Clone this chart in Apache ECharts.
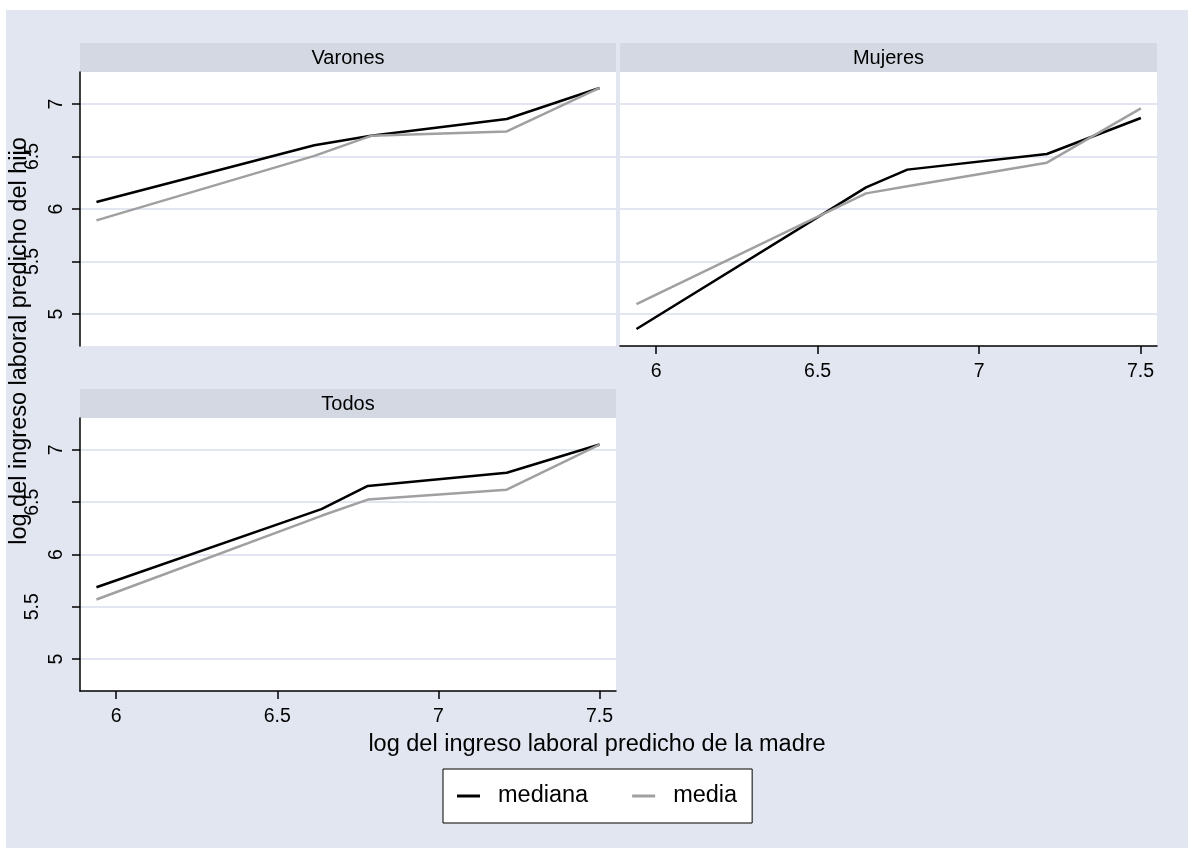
<!DOCTYPE html>
<html>
<head>
<meta charset="utf-8">
<script src="https://cdn.jsdelivr.net/npm/echarts@6/dist/echarts.min.js"></script>
<style>
  html, body { margin: 0; padding: 0; background: #ffffff; }
  #chart { width: 1188px; height: 848px; }
</style>
</head>
<body>
<div id="chart"></div>
<script>
// Panel titles
const panels = ['Varones', 'Mujeres', 'Todos'];
const seriesNames = ['mediana', 'media'];

// Mother's predicted log labour income (x) per panel
const xVarones = [5.939, 6.615, 6.791, 7.212, 7.500];
const xMujeres = [5.939, 6.650, 6.778, 7.210, 7.501];
const xTodos   = [5.939, 6.637, 6.781, 7.212, 7.500];

// Child's predicted log labour income (y): median and mean
const medianaVarones = [6.067, 6.608, 6.697, 6.857, 7.153];
const mediaVarones   = [5.892, 6.506, 6.697, 6.739, 7.153];
const medianaMujeres = [4.857, 6.206, 6.375, 6.524, 6.867];
const mediaMujeres   = [5.095, 6.149, 6.216, 6.441, 6.959];
const medianaTodos   = [5.687, 6.434, 6.655, 6.782, 7.051];
const mediaTodos     = [5.570, 6.370, 6.525, 6.620, 7.051];

// Tick labels
const xTicks = [6, 6.5, 7, 7.5];
const yTicks = [5, 5.5, 6, 6.5, 7];

const xTitle = 'log del ingreso laboral predicho de la madre';
const yTitle = 'log del ingreso laboral predicho del hijo';

const BG = '#e1e6f0';
const STRIP = '#d3d8e3';
const GRIDLINE = '#e1e6f0';
const FONT = 'Liberation Sans, Arial, Helvetica, sans-serif';

const zip = (xs, ys) => xs.map((x, i) => [x, ys[i]]);

// Plot rectangles of the three facets
const boxes = [
  { left: 80,  top: 72,  width: 536, height: 274 },
  { left: 620, top: 72,  width: 537, height: 274 },
  { left: 80,  top: 418, width: 536, height: 273 }
];
const strips = [
  { x: 80,  y: 43,  w: 536, h: 29 },
  { x: 620, y: 43,  w: 537, h: 29 },
  { x: 80,  y: 389, w: 536, h: 29 }
];

const xMin = 5.888, xMax = 7.551;
const yMin = 4.695, yMax = 7.305;

function makeX(idx, showAxis) {
  return {
    type: 'value', gridIndex: idx, min: xMin, max: xMax,
    axisLine: { show: showAxis, onZero: false, lineStyle: { color: '#000', width: 1.5 } },
    axisTick: { show: showAxis, length: 8, customValues: xTicks, lineStyle: { color: '#000', width: 1.5 } },
    axisLabel: { show: showAxis, customValues: xTicks, margin: 16, color: '#000', fontSize: 19.5, fontFamily: FONT },
    splitLine: { show: false }
  };
}
// Vertical tick labels: fractional values sit further out from the axis
const yLabelRich = {
  i: { fontSize: 19.5, color: '#000', fontFamily: FONT },
  d: { fontSize: 19.5, color: '#000', fontFamily: FONT, padding: [0, 0, 24, 0] }
};
function makeY(idx, showAxis) {
  return {
    type: 'value', gridIndex: idx, min: yMin, max: yMax,
    axisLine: { show: showAxis, onZero: false, lineStyle: { color: '#000', width: 1.5 } },
    axisTick: { show: showAxis, length: 8, customValues: yTicks, lineStyle: { color: '#000', width: 1.5 } },
    axisLabel: {
      show: showAxis, customValues: yTicks, rotate: 90, margin: 13,
      formatter: v => (Number.isInteger(v) ? '{i|' : '{d|') + v + '}',
      rich: yLabelRich
    },
    splitLine: { show: true, lineStyle: { color: GRIDLINE, width: 2 } }
  };
}

const lineSeries = (name, idx, data, color) => ({
  name, type: 'line', xAxisIndex: idx, yAxisIndex: idx, data,
  color, showSymbol: false, symbol: 'none',
  lineStyle: { color, width: 2.5 },
  emphasis: { disabled: true }, animation: false
});

const graphics = [
  { type: 'rect', z: -10, shape: { x: 6, y: 10, width: 1182, height: 838 }, style: { fill: BG } }
];
strips.forEach((s, i) => {
  graphics.push({ type: 'rect', shape: { x: s.x, y: s.y, width: s.w, height: s.h }, style: { fill: STRIP } });
  graphics.push({ type: 'text', x: s.x + s.w / 2, y: s.y + s.h / 2 + 0.5,
    style: { text: panels[i], fill: '#000', font: '20px ' + FONT, align: 'center', verticalAlign: 'middle' } });
});
graphics.push({ type: 'text', x: 597, y: 745,
  style: { text: xTitle, fill: '#000', font: '23.5px ' + FONT, align: 'center', verticalAlign: 'middle' } });
graphics.push({ type: 'text', x: 20, y: 341, rotation: Math.PI / 2,
  style: { text: yTitle, fill: '#000', font: '23.5px ' + FONT, align: 'center', verticalAlign: 'middle' } });

const chart = echarts.init(document.getElementById('chart'), null, { renderer: 'canvas' });
chart.setOption({
  animation: false,
  backgroundColor: '#ffffff',
  textStyle: { fontFamily: FONT },
  graphic: graphics,
  grid: boxes.map(b => ({ ...b, show: true, backgroundColor: '#ffffff', borderWidth: 0, containLabel: false })),
  xAxis: [makeX(0, false), makeX(1, true), makeX(2, true)],
  yAxis: [makeY(0, true), makeY(1, false), makeY(2, true)],
  legend: {
    data: seriesNames,
    left: 443, top: 769,
    orient: 'horizontal',
    backgroundColor: '#ffffff', borderColor: '#000', borderWidth: 1, borderRadius: 0,
    padding: [15, 15, 15, 14],
    icon: 'rect', itemWidth: 23, itemHeight: 3, itemGap: 44,
    selectedMode: false,
    textStyle: { fontSize: 23.5, color: '#000', fontFamily: FONT, padding: [0, 0, 0, 13] }
  },
  series: [
    lineSeries('mediana', 0, zip(xVarones, medianaVarones), '#000000'),
    lineSeries('media',   0, zip(xVarones, mediaVarones),   '#a0a0a0'),
    lineSeries('mediana', 1, zip(xMujeres, medianaMujeres), '#000000'),
    lineSeries('media',   1, zip(xMujeres, mediaMujeres),   '#a0a0a0'),
    lineSeries('mediana', 2, zip(xTodos, medianaTodos),     '#000000'),
    lineSeries('media',   2, zip(xTodos, mediaTodos),       '#a0a0a0')
  ]
});
</script>
</body>
</html>
